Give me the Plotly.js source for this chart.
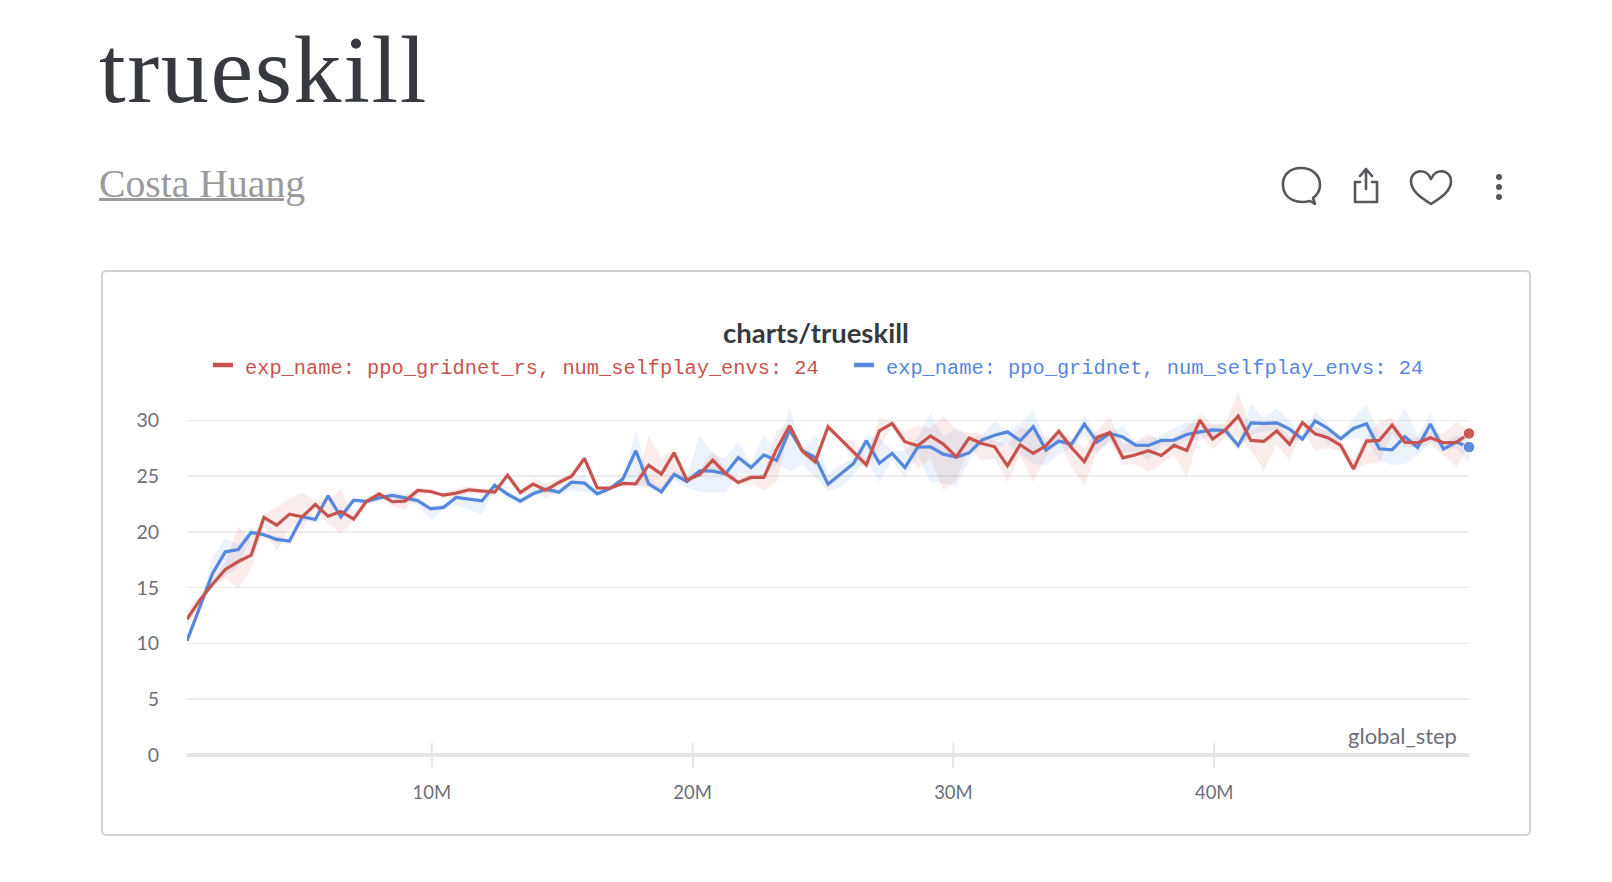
<!DOCTYPE html>
<html>
<head>
<meta charset="utf-8">
<script src="https://cdn.plot.ly/plotly-3.0.1.min.js"></script>
<style>
html,body{margin:0;padding:0;background:#fff;width:1612px;height:882px;overflow:hidden}
.abs{position:absolute}
#title{left:99px;top:15px;font:96px/110px "Liberation Serif",serif;color:#363a3e;letter-spacing:1.6px;white-space:nowrap}
#author{left:99px;top:161px;font:39.7px/46px "Liberation Serif",serif;color:#9a9a9a;white-space:nowrap}
#underline{left:99px;top:198px;width:185px;height:3px;background:#9a9a9a}
#card{left:101px;top:270px;width:1426px;height:562px;border:2px solid #d2d2d2;border-radius:5px;box-sizing:content-box}
#icons{left:0;top:0}
#plot{left:0;top:0;width:1612px;height:882px}
</style>
</head>
<body>
<div id="title" class="abs">trueskill</div>
<div id="author" class="abs">Costa Huang</div>
<div id="underline" class="abs"></div>
<div id="card" class="abs"></div>
<svg id="icons" class="abs" width="1612" height="300" fill="none" stroke="#54575b" stroke-width="2.6" stroke-linejoin="round" stroke-linecap="round">
  <path d="M1310 201 C1298 204 1284 200 1283 186 C1282 174 1291 168 1301 168 C1312 168 1320 175 1320 185 C1320 191 1317 195 1313 198 L1315 204 Z"/>
  <path d="M1360 182 H1355 V202 H1377 V182 H1372 M1366 189 V170 M1360 176 L1366 169 L1372 176"/>
  <path d="M1431 204 C1420 197 1411 191 1411 181 C1411 170 1426 167 1431 179 C1436 167 1451 170 1451 181 C1451 191 1442 197 1431 204 Z"/>
  <g fill="#54575b" stroke="none"><circle cx="1499" cy="177" r="3"/><circle cx="1499" cy="187" r="3"/><circle cx="1499" cy="197" r="3"/></g>
</svg>
<div id="plot" class="abs"></div>
<script>
const steps = [0.61,1.10,1.59,2.08,2.58,3.07,3.56,4.05,4.54,5.03,5.53,6.02,6.51,7.00,7.49,7.98,8.48,8.97,9.46,9.95,10.44,10.93,11.43,11.92,12.41,12.90,13.39,13.88,14.37,14.87,15.36,15.85,16.34,16.83,17.32,17.82,18.31,18.80,19.29,19.78,20.27,20.77,21.26,21.75,22.24,22.73,23.22,23.72,24.21,24.70,25.19,25.68,26.17,26.66,27.16,27.65,28.14,28.63,29.12,29.61,30.11,30.60,31.09,31.58,32.07,32.56,33.06,33.55,34.04,34.53,35.02,35.51,36.00,36.50,36.99,37.48,37.97,38.46,38.95,39.45,39.94,40.43,40.92,41.41,41.90,42.40,42.89,43.38,43.87,44.36,44.85,45.34,45.84,46.33,46.82,47.31,47.80,48.29,48.79,49.28,49.77];
const redMean = [12.18,13.89,15.32,16.64,17.35,17.92,21.3,20.61,21.6,21.36,22.47,21.42,21.84,21.15,22.74,23.42,22.71,22.77,23.72,23.63,23.3,23.48,23.78,23.66,23.57,25.1,23.54,24.29,23.75,24.44,25,26.59,23.96,23.93,24.35,24.32,25.99,25.19,27.1,24.65,25.16,26.44,25.25,24.44,24.89,24.89,27.43,29.52,27.25,26.29,29.43,28.3,27.19,26.02,29.07,29.73,28.09,27.73,28.62,27.88,26.74,28.42,27.94,27.64,25.93,27.82,27.04,27.73,29.04,27.55,26.29,28.48,28.92,26.65,26.92,27.28,26.86,27.76,27.31,30.03,28.33,29.16,30.39,28.21,28.12,29.07,27.85,29.82,28.8,28.45,27.76,25.64,28.15,28.21,29.58,28.06,28,28.45,28,28.03,28.83];
const redUpper = [13,14.3,15.6,17.3,20.5,19.3,21.6,22.2,23,23.5,22.9,22.9,23.8,21.6,23,23.6,23,23.3,24,23.8,23.5,23.9,24.1,23.9,23.8,25.2,23.8,24.8,24.4,24.8,25.3,26.7,24.1,24,24.4,24.4,28.6,26.6,27.5,24.9,25.5,27.3,25.6,24.8,25.2,25.2,29.1,29.7,27.6,26.9,29.9,28.4,28.2,26.4,30.3,29.9,29,29.6,29.3,30.4,29.1,28.9,28.8,28.2,27.8,29.4,29,28.5,29.1,28.4,27.6,29.1,30.3,27.8,28.1,28.8,28.1,28.4,29.4,30.6,29.7,29.7,32.6,29.1,29.7,29.9,28.5,30,29.4,29,28.2,26.4,28.5,29.9,30.3,28.4,28.5,29,28.8,29.9,29.1];
const redLower = [11.6,13.6,15.1,15.8,14.9,16.7,20.6,18.2,20.4,20.3,22,20.7,19.9,20.9,22.5,23.2,22.3,22,23.3,23.4,23.1,23,23.4,23.4,23.3,24.9,23.3,23.7,23,24.1,24.8,26.4,23.8,23.8,24.2,24.2,24.05,23.5,25.2,24.3,24.9,25.5,24.9,24.2,24.35,23.75,24.5,29.1,26.9,25.9,29.1,28,26.5,25.7,27.6,29.5,27.3,25.7,26.6,23.75,24.65,27.5,26.4,26.6,24.5,26.9,24.5,26.7,28.4,25.8,24.2,27.2,28.1,26,26.1,25.4,26.1,26.9,24.9,28.8,27.4,28.5,28.5,27.3,25.5,27.8,26.4,29.3,27.3,27.5,27.2,25.5,26.1,26.2,28.8,27.6,27.6,27.8,26.9,25.8,27.8];
const blueMean = [10.24,13.29,16.28,18.22,18.43,19.96,19.75,19.33,19.18,21.36,21.12,23.24,21.36,22.86,22.74,23.06,23.27,23.06,22.8,22.08,22.2,23.1,22.94,22.8,24.2,23.4,22.77,23.42,23.84,23.57,24.47,24.38,23.42,23.9,24.74,27.28,24.32,23.6,25.16,24.53,25.49,25.46,25.22,26.68,25.78,26.92,26.41,29.13,27.28,26.68,24.29,25.19,26.14,28.18,26.17,27.04,25.78,27.61,27.64,26.98,26.71,27.1,28.24,28.68,28.98,28.18,29.43,27.34,28.15,27.88,29.67,28.06,28.83,28.51,27.79,27.76,28.21,28.24,28.74,28.98,29.16,29.1,27.76,29.79,29.73,29.79,29.22,28.33,29.97,29.28,28.36,29.28,29.7,27.46,27.37,28.54,27.58,29.67,27.43,28.06,27.61];
const blueUpper = [10.4,13.6,17.8,19.4,18.9,20.3,20,19.6,19.4,21.7,21.5,23.5,21.6,23,22.9,23.3,23.7,23.4,23.1,22.3,22.4,23.3,23.2,23,24.4,23.6,23.1,23.7,24.2,23.8,24.9,25.1,23.7,24.1,25,29.1,24.9,24,25.6,24.9,28.7,27,26.6,28.1,26.1,28.7,27.2,31.1,27.4,28.7,25.2,26,26.6,28.7,28.5,27.3,27.3,28.5,30.7,28.5,29.4,28.5,28.7,29.9,29.1,29.7,30.9,28.1,28.7,27.9,30.5,28.7,29,29.5,28.1,28.4,28.7,29.3,29.9,29.7,29.6,29.6,28.1,31.5,30.2,31.1,30,28.7,30.8,29.7,28.5,30.2,31.4,28.7,29,31.1,28.5,30.7,27.9,28.7,28.2];
const blueLower = [10.1,13,15.4,16,16.9,19.5,19.5,19.1,18.9,21,20.9,23,21.1,22.6,22.5,22.7,22.9,22.8,22.4,21.1,22,22.4,22,21.6,24,23,22.4,23.2,23.5,23.3,23.7,23.6,23.2,23.7,24.3,24.05,24,23.3,24.6,24,23.6,23.5,23.6,25.2,25.2,24.9,26.1,25.4,26.1,24.9,23.7,24,25.2,26.4,24.5,26.4,24.9,26.9,24.5,24.35,24.1,26.4,27.9,27.5,27.9,27,26.1,26,26.9,27.5,28.7,27,28.2,27.2,27.2,26.4,27.8,27.6,28.2,28.2,28.7,28.7,27.3,28.7,29,29.1,28.1,28.2,29.1,27.9,28.2,28.4,28.2,26.4,26,26.1,26.9,28.1,27.3,27.5,26.3];
const redName = "exp_name: ppo_gridnet_rs, num_selfplay_envs: 24";
const blueName = "exp_name: ppo_gridnet, num_selfplay_envs: 24";
const xTickVals = [10,20,30,40];
const xTickText = ["10M","20M","30M","40M"];
const yTickVals = [0,5,10,15,20,25,30];

const RED="#c8534e", BLUE="#5587dc", SANS='Lato, "Open Sans", sans-serif', GREY="#6d6f78";
const L=187,R=1469,T=387,B=755;
const px=v=>(v-L)/(R-L), py=v=>(B-v)/(B-T);

function band(lo,hi,color){
  return [
    {x:steps,y:lo,mode:"lines",line:{width:0,color:color},hoverinfo:"skip",showlegend:false},
    {x:steps,y:hi,mode:"lines",line:{width:0,color:color},fill:"tonexty",fillcolor:color.replace("1)","0.11)"),hoverinfo:"skip",showlegend:false}
  ];
}
function line(y,color,name){
  return {x:steps,y:y,name:name,mode:"lines+markers",cliponaxis:false,line:{width:3.2,color:color},
    marker:{color:color,size:y.map((v,i)=>i===y.length-1?11.5:0),opacity:y.map((v,i)=>i===y.length-1?0.95:0)},showlegend:false};
}
const traces=[
  ...band(blueLower,blueUpper,"rgba(85,135,220,1)"),
  ...band(redLower,redUpper,"rgba(200,81,76,1)"),
  line(blueMean,BLUE,blueName),
  line(redMean,RED,redName)
];
const note=(text,x,y,anchor,size,color,family,extra)=>Object.assign({text:text,xref:"paper",yref:"paper",x:px(x),y:py(y),xanchor:anchor,yanchor:"middle",showarrow:false,
  font:{size:size,color:color,family:family}},extra||{});
const key=(x0,x1,y,c)=>({type:"line",xref:"paper",yref:"paper",x0:px(x0),x1:px(x1),y0:py(y),y1:py(y),line:{color:c,width:4.5}});
const layout={
  width:1612,height:882,
  margin:{l:L,r:1612-R,t:T,b:882-B,pad:0},
  paper_bgcolor:"rgba(0,0,0,0)",plot_bgcolor:"rgba(0,0,0,0)",
  xaxis:{range:[steps[0],steps[steps.length-1]],tickmode:"array",tickvals:xTickVals,ticktext:xTickText,showgrid:false,zeroline:false,
    showline:false,ticks:"outside",ticklen:12,tickwidth:2,tickcolor:"#e6e6e8",ticklabelstandoff:9,
    tickfont:{size:18.5,color:GREY,family:SANS}},
  yaxis:{range:[0,33],tickmode:"array",tickvals:yTickVals,showgrid:true,gridcolor:"#ececec",gridwidth:1.5,zeroline:false,showline:false,ticks:"",ticklabelstandoff:27,
    tickfont:{size:19.5,color:GREY,family:SANS}},
  showlegend:false,hovermode:false,
  shapes:[
    key(213,233,365,RED),key(854,874,365,BLUE),
    {type:"line",xref:"paper",yref:"paper",x0:0,x1:1,y0:0,y1:0,line:{color:"#e6e6e8",width:4}},
    ...xTickVals.map(v=>({type:"line",xref:"x",yref:"paper",x0:v,x1:v,y0:0,y1:py(743),line:{color:"#e6e6e8",width:2}}))
  ],
  annotations:[
    note("<b>charts/trueskill</b>",816,332.5,"center",27.5,"#36393d",SANS),
    note(redName,243,369,"left",20.35,RED,'"Liberation Mono",monospace'),
    note(blueName,884,369,"left",20.35,BLUE,'"Liberation Mono",monospace'),
    note("global_step",1459,735,"right",22,GREY,SANS)
  ]
};
Plotly.newPlot("plot",traces,layout,{displayModeBar:false,staticPlot:true});
</script>
</body>
</html>
